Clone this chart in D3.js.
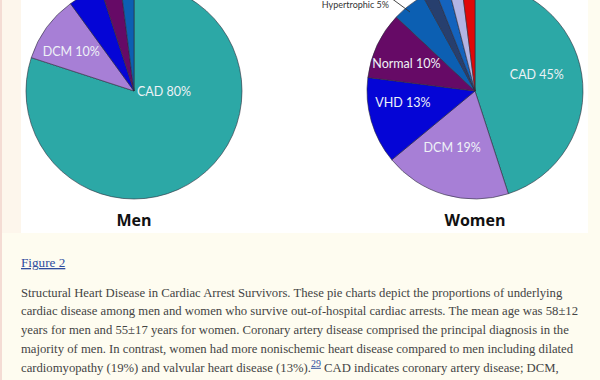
<!DOCTYPE html>
<html><head><meta charset="utf-8">
<script src="https://cdn.jsdelivr.net/npm/d3@7/dist/d3.min.js"></script>
<style>
html,body{margin:0;padding:0;background:#fefcf0;}
svg{display:block;}
</style></head>
<body>
<svg id="chart" width="600" height="380"></svg>
<script>
// ---- data ----
const menCategories   = ["CAD", "DCM", "VHD", "Normal", "Other"];
const menValues       = [80, 10, 5, 3, 2];
const womenCategories = ["CAD", "DCM", "VHD", "Normal", "Hypertrophic", "Congenital", "Myocarditis", "ARVC", "Other"];
const womenValues     = [45, 19, 13, 10, 5, 2, 2, 2, 2];
const chartTitles     = ["Men", "Women"];
const figureLabel     = "Figure 2";
const captionLines = [
  "Structural Heart Disease in Cardiac Arrest Survivors. These pie charts depict the proportions of underlying",
  "cardiac disease among men and women who survive out-of-hospital cardiac arrests. The mean age was 58±12",
  "years for men and 55±17 years for women. Coronary artery disease comprised the principal diagnosis in the",
  "majority of men. In contrast, women had more nonischemic heart disease compared to men including dilated",
  "cardiomyopathy (19%) and valvular heart disease (13%)."
];
const captionRef = "29";
const captionTail = " CAD indicates coronary artery disease; DCM,";

// ---- styles ----
const colorMap = {
  "CAD": "#2ca8a6", "DCM": "#a77fd6", "VHD": "#0505d6", "Normal": "#660a66",
  "Hypertrophic": "#0c5fb2", "Congenital": "#273f6e", "Myocarditis": "#1463bd",
  "ARVC": "#b2b4e4", "Other": "#e00808"
};
const menColor = {"Other": "#0c5fb2"};

const svg = d3.select("#chart");
svg.append("rect").attr("x",0).attr("y",0).attr("width",2).attr("height",380).attr("fill","#f4dcd4");
svg.append("rect").attr("x",2).attr("y",0).attr("width",19).attr("height",233).attr("fill","#fdf6ec");
svg.append("rect").attr("x",21).attr("y",0).attr("width",567).attr("height",233).attr("fill","#ffffff");

const R = 108;
const pie = d3.pie().sort(null).value(d => d.v).startAngle(0).endAngle(2*Math.PI);
const arc = d3.arc().innerRadius(0).outerRadius(R);

function drawPie(cx, cy, cats, vals, labelPos, colorOverride, title) {
  const data = cats.map((c,i)=>({c, v: vals[i]}));
  const g = svg.append("g").attr("transform", `translate(${cx},${cy})`);
  const arcs = pie(data);
  g.selectAll("path").data(arcs).join("path")
    .attr("d", arc)
    .attr("fill", d => (colorOverride[d.data.c] || colorMap[d.data.c]))
    .attr("stroke", "#2b2b3a").attr("stroke-width", 0.6);
  arcs.forEach(a => {
    const lp = labelPos[a.data.c];
    if (!lp) return;
    const mid = (a.startAngle + a.endAngle)/2;
    const ang = lp.ang !== undefined ? lp.ang : mid;
    const x = Math.sin(ang)*lp.r, y = -Math.cos(ang)*lp.r;
    g.append("text").attr("x", x).attr("y", y).attr("dy","0.35em")
      .attr("text-anchor","middle")
      .attr("font-family","Lato, 'Open Sans', sans-serif").attr("font-size", 12.5)
      .attr("fill","#eef2f6")
      .text(`${a.data.c} ${a.data.v}%`);
  });
  g.append("text").attr("x",0).attr("y",R+24+3).attr("text-anchor","middle")
    .attr("font-family","'Open Sans', Lato, sans-serif").attr("font-weight","bold")
    .attr("font-size",16).attr("fill","#111").text(title);
  return {g, arcs};
}

const deg = Math.PI/180;
drawPie(134, 91, menCategories, menValues,
  {"CAD": {r: 30, ang: 91*deg}, "DCM": {r: 74, ang: 302*deg}}, menColor, chartTitles[0]);
const w = drawPie(475, 91, womenCategories, womenValues,
  {"CAD": {r: 64, ang: 75*deg}, "DCM": {r: 61, ang: 202*deg},
   "VHD": {r: 73, ang: 261*deg}, "Normal": {r: 74, ang: 292*deg}}, {}, chartTitles[1]);

// annotation line + label for the small women slice
w.g.append("line").attr("x1",-84).attr("y1",-93).attr("x2",-65).attr("y2",-79)
  .attr("stroke","#333").attr("stroke-width",0.9);
w.g.append("text").attr("x",-86).attr("y",-83).attr("text-anchor","end")
  .attr("font-family","Lato, 'Open Sans', sans-serif").attr("font-size",9)
  .attr("fill","#333").text("Hypertrophic 5%");

// ---- caption ----
const serif = "'Liberation Serif', 'DejaVu Serif', serif";
svg.append("text").attr("x",21).attr("y",267)
  .attr("font-family",serif).attr("font-size",13.2).attr("fill","#2f4c9e")
  .attr("text-decoration","underline").text(figureLabel);

const baselines = [296.5, 315.3, 334.2, 353, 371.8];
let fs = 13.3;
const cap = svg.append("g").attr("font-family",serif).attr("fill","#444");
const probe = cap.append("text").attr("font-size",fs).text(captionLines[0]);
fs = fs * 542 / probe.node().getComputedTextLength();
probe.remove();
captionLines.forEach((t,i)=>{
  const tx = cap.append("text").attr("x",21).attr("y",baselines[i]).attr("font-size",fs);
  tx.append("tspan").text(t);
  if (i === captionLines.length-1) {
    tx.append("tspan").attr("dy",-5).attr("font-size",fs*0.78).attr("fill","#2f4c9e")
      .attr("text-decoration","underline").text(captionRef);
    tx.append("tspan").attr("dy",5).text(captionTail);
  }
});
</script>
</body></html>
